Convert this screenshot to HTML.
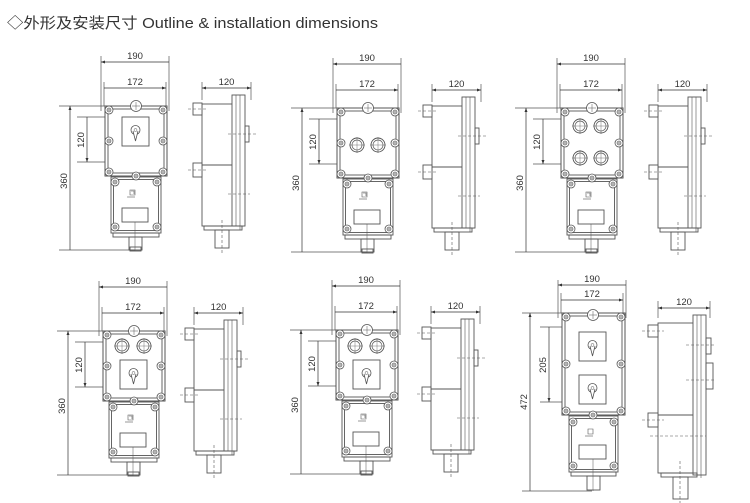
<!DOCTYPE html>
<html><head><meta charset="utf-8"><style>
html,body{margin:0;padding:0;background:#fff;}
svg{display:block;}
text{font-family:"Liberation Sans",Arial,sans-serif;font-size:9.5px;fill:#333;}
</style></head><body>
<svg width="750" height="503" viewBox="0 0 750 503" xmlns="http://www.w3.org/2000/svg">
<defs>
<marker id="a" viewBox="0 0 8 6" refX="8" refY="3" markerWidth="6" markerHeight="4.5" orient="auto-start-reverse"><path d="M0,0L8,3L0,6z" fill="#333"/></marker>
<g id="bolt"><circle r="4" fill="#fff" stroke="#555" stroke-width="0.8"/><circle r="2" fill="none" stroke="#555" stroke-width="0.6"/><path d="M-2,0H2M0,-2V2" stroke="#555" stroke-width="0.5"/></g>
<g id="btn"><circle r="7" fill="#fff" stroke="#555" stroke-width="0.9"/><circle r="5" fill="none" stroke="#555" stroke-width="0.7"/><path d="M-8,0H8M0,-8V8" stroke="#555" stroke-width="0.4"/></g>
<g id="sw"><rect x="0" y="0" width="27" height="29" fill="#fff" stroke="#555" stroke-width="0.9"/><circle cx="13.5" cy="13" r="4.5" fill="none" stroke="#555" stroke-width="0.8"/><path d="M11,14 L13.5,24 L16,14" fill="#fff" stroke="#555" stroke-width="0.8"/><circle cx="13.5" cy="13" r="1.5" fill="none" stroke="#555" stroke-width="0.5"/></g>
<g id="front" fill="none" stroke="#555" stroke-width="0.9">
 <path d="M-4,-50V5M64,-50V5M-1,-24V0M61,-24V0" stroke-width="0.7"/>
 <path d="M-4,-44H64M-1,-18H61" stroke="#333" stroke-width="0.7" marker-start="url(#a)" marker-end="url(#a)"/>
 <path d="M-46,0H5M-46,144H30M-28,11H0M-28,56H0" stroke-width="0.7"/>
 <path d="M-35,0V144M-18,11V56" stroke="#333" stroke-width="0.7" marker-start="url(#a)" marker-end="url(#a)"/>
 <rect x="0" y="0" width="62" height="70" fill="#fff" stroke-width="1"/>
 <rect x="3" y="3" width="56" height="64"/>
 <rect x="6" y="71" width="50" height="56" fill="#fff"/>
 <rect x="8.5" y="73.5" width="45" height="51"/>
 <rect x="17" y="102" width="26" height="14"/>
 <path d="M30,116V145" stroke-width="0.5"/>
 <rect x="8" y="127" width="46" height="4"/>
 <rect x="24" y="131" width="13" height="13"/>
 <rect x="25" y="141" width="11" height="4"/>
 <path d="M25,84h5v5h-5zM26,85h3v3" stroke-width="0.6"/>
 <path d="M22,91h8" stroke-width="0.6"/>
</g>
<g id="fbolts">
 <use href="#bolt" x="4" y="4"/><use href="#bolt" x="58" y="4"/>
 <use href="#bolt" x="4" y="66"/><use href="#bolt" x="58" y="66"/>
 <use href="#bolt" x="4" y="35"/><use href="#bolt" x="58" y="35"/>
 <use href="#bolt" x="31" y="70"/>
 <circle cx="31" cy="0" r="5.5" fill="#fff" stroke="#555" stroke-width="0.8"/><path d="M27,0H35M31,-4V4" stroke="#555" stroke-width="0.5"/>
 <use href="#bolt" x="10" y="76"/><use href="#bolt" x="52" y="76"/>
 <use href="#bolt" x="10" y="121"/><use href="#bolt" x="52" y="121"/>
</g>
<g id="side" fill="none" stroke="#555" stroke-width="0.9">
 <path d="M0,-24V-6M49,-24V-6" stroke-width="0.7"/>
 <path d="M0,-18H49" stroke="#333" stroke-width="0.7" marker-start="url(#a)" marker-end="url(#a)"/>
 <rect x="0" y="-2" width="42" height="122" fill="#fff"/>
 <path d="M0,59H42"/>
 <rect x="30" y="-11" width="13" height="131" fill="#fff"/>
 <path d="M34,-11V120M38,-11V124"  stroke-width="0.6"/>
 <rect x="43" y="20" width="4" height="16"/>
 <rect x="-9" y="-3" width="9" height="12" fill="#fff"/>
 <rect x="-9" y="57" width="9" height="14" fill="#fff"/>
 <rect x="2" y="120" width="38" height="4"/>
 <rect x="13" y="124" width="14" height="18"/>
 <path d="M-14,3H6M-14,64H6M26,28H54M26,88H48M20,114V148" stroke="#555" stroke-width="0.6" stroke-dasharray="3,2"/>
</g>
</defs>

<text x="7" y="28" style="font-size:15px;font-family:'Liberation Sans','Noto Sans CJK SC',sans-serif" textLength="371" lengthAdjust="spacingAndGlyphs">◇外形及安装尺寸 Outline &amp; installation dimensions</text>

<!-- D1 -->
<g transform="translate(105,106)">
 <use href="#front"/><use href="#fbolts"/>
 <use href="#sw" x="17" y="11"/>
 <use href="#side" x="97" y="0"/>
 <text x="30" y="-47" text-anchor="middle">190</text>
 <text x="30" y="-21" text-anchor="middle">172</text>
 <text x="121.5" y="-21" text-anchor="middle">120</text>
 <text transform="translate(-38,75) rotate(-90)" text-anchor="middle">360</text>
 <text transform="translate(-21,34) rotate(-90)" text-anchor="middle">120</text>
</g>
<!-- D2 -->
<g transform="translate(337,108)">
 <use href="#front"/><use href="#fbolts"/>
 <use href="#btn" x="20" y="37"/><use href="#btn" x="41" y="37"/>
 <use href="#side" x="95" y="0"/>
 <text x="30" y="-47" text-anchor="middle">190</text>
 <text x="30" y="-21" text-anchor="middle">172</text>
 <text x="119.5" y="-21" text-anchor="middle">120</text>
 <text transform="translate(-38,75) rotate(-90)" text-anchor="middle">360</text>
 <text transform="translate(-21,34) rotate(-90)" text-anchor="middle">120</text>
</g>
<!-- D3 -->
<g transform="translate(561,108)">
 <use href="#front"/><use href="#fbolts"/>
 <use href="#btn" x="19" y="18"/><use href="#btn" x="40" y="18"/>
 <use href="#btn" x="19" y="50"/><use href="#btn" x="40" y="50"/>
 <use href="#side" x="97" y="0"/>
 <text x="30" y="-47" text-anchor="middle">190</text>
 <text x="30" y="-21" text-anchor="middle">172</text>
 <text x="121.5" y="-21" text-anchor="middle">120</text>
 <text transform="translate(-38,75) rotate(-90)" text-anchor="middle">360</text>
 <text transform="translate(-21,34) rotate(-90)" text-anchor="middle">120</text>
</g>
<!-- D4 -->
<g transform="translate(103,331)">
 <use href="#front"/><use href="#fbolts"/>
 <use href="#btn" x="19" y="15"/><use href="#btn" x="41" y="15"/>
 <use href="#sw" x="17" y="29"/>
 <use href="#side" x="91" y="0"/>
 <text x="30" y="-47" text-anchor="middle">190</text>
 <text x="30" y="-21" text-anchor="middle">172</text>
 <text x="115.5" y="-21" text-anchor="middle">120</text>
 <text transform="translate(-38,75) rotate(-90)" text-anchor="middle">360</text>
 <text transform="translate(-21,34) rotate(-90)" text-anchor="middle">120</text>
</g>
<!-- D5 -->
<g transform="translate(336,330)">
 <use href="#front"/><use href="#fbolts"/>
 <use href="#btn" x="19" y="16"/><use href="#btn" x="41" y="16"/>
 <use href="#sw" x="17" y="30"/>
 <use href="#side" x="95" y="0"/>
 <text x="30" y="-47" text-anchor="middle">190</text>
 <text x="30" y="-21" text-anchor="middle">172</text>
 <text x="119.5" y="-21" text-anchor="middle">120</text>
 <text transform="translate(-38,75) rotate(-90)" text-anchor="middle">360</text>
 <text transform="translate(-21,34) rotate(-90)" text-anchor="middle">120</text>
</g>
<!-- D6 -->
<g transform="translate(562,313)">
 <g fill="none" stroke="#555" stroke-width="0.9">
  <path d="M-4,-33V5M64,-33V5M-1,-20V0M61,-20V0" stroke-width="0.7"/>
  <path d="M-4,-28H64M-1,-13H61" stroke="#333" stroke-width="0.7" marker-start="url(#a)" marker-end="url(#a)"/>
  <path d="M-40,0H5M-40,178H30M-22,14H0M-22,89H0" stroke-width="0.7"/>
  <path d="M-32,0V178M-13,14V89" stroke="#333" stroke-width="0.7" marker-start="url(#a)" marker-end="url(#a)"/>
  <rect x="0" y="0" width="63" height="102" fill="#fff" stroke-width="1"/>
  <rect x="3" y="3" width="57" height="96"/>
  <rect x="7" y="103" width="49" height="56" fill="#fff"/>
  <rect x="9.5" y="105.5" width="44" height="51"/>
  <rect x="17" y="132" width="27" height="14"/>
  <path d="M31,146V178" stroke-width="0.5"/>
  <rect x="9" y="159" width="45" height="4"/>
  <rect x="25" y="163" width="13" height="14"/>
  <path d="M26,116h5v5h-5z" stroke-width="0.6"/><path d="M23,123h8" stroke-width="0.6"/>
 </g>
 <use href="#sw" x="17" y="19"/><use href="#sw" x="17" y="62"/>
 <use href="#bolt" x="4" y="4"/><use href="#bolt" x="59" y="4"/>
 <use href="#bolt" x="4" y="98"/><use href="#bolt" x="59" y="98"/>
 <use href="#bolt" x="4" y="51"/><use href="#bolt" x="59" y="51"/>
 <use href="#bolt" x="31" y="102"/>
 <circle cx="31" cy="2" r="5.5" fill="#fff" stroke="#555" stroke-width="0.8"/><path d="M27,2H35M31,-2V6" stroke="#555" stroke-width="0.5"/>
 <use href="#bolt" x="11" y="109"/><use href="#bolt" x="52" y="109"/>
 <use href="#bolt" x="11" y="153"/><use href="#bolt" x="52" y="153"/>
 <text x="30" y="-31" text-anchor="middle">190</text>
 <text x="30" y="-16" text-anchor="middle">172</text>
 <text transform="translate(-35,89) rotate(-90)" text-anchor="middle">472</text>
 <text transform="translate(-16,52) rotate(-90)" text-anchor="middle">205</text>
 <!-- side -->
 <g transform="translate(96,0)" fill="none" stroke="#555" stroke-width="0.9">
  <path d="M0,-12V5M52,-12V5" stroke-width="0.7"/>
  <path d="M0,-5H52" stroke="#333" stroke-width="0.7" marker-start="url(#a)" marker-end="url(#a)"/>
  <rect x="0" y="10" width="42" height="150" fill="#fff"/>
  <path d="M0,102H42"/>
  <rect x="35" y="2" width="13" height="160" fill="#fff"/>
  <path d="M39,2V162M43,2V165" stroke-width="0.6"/>
  <rect x="48" y="25" width="5" height="16"/><rect x="48" y="50" width="7" height="26"/>
  <rect x="-10" y="12" width="10" height="12" fill="#fff"/>
  <rect x="-10" y="100" width="10" height="14" fill="#fff"/>
  <rect x="3" y="160" width="36" height="4"/>
  <rect x="15" y="164" width="15" height="22"/>
  <path d="M-16,18H6M-16,107H6M28,32H56M28,67H56M-8,123H48M22,148V190" stroke-width="0.6" stroke-dasharray="3,2"/>
 </g>
 <text x="122" y="-8" text-anchor="middle">120</text>
</g>
</svg>
</body></html>
